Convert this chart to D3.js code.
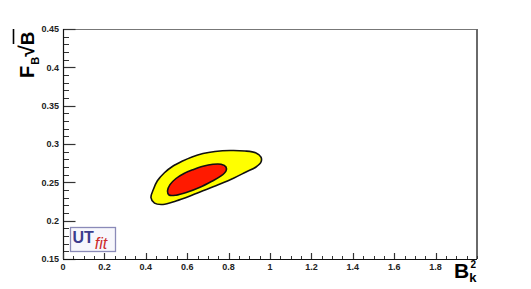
<!DOCTYPE html>
<html><head><meta charset="utf-8">
<script src="https://cdn.jsdelivr.net/npm/d3@7"></script>
<style>body{margin:0;background:#fff}svg{display:block}</style>
</head><body>
<svg id="c" width="531" height="289"></svg>
<script>
// ---- data ----
const xDomain = [0, 2];
const yDomain = [0.15, 0.45];
const xTicks = [0, 0.2, 0.4, 0.6, 0.8, 1, 1.2, 1.4, 1.6, 1.8];
const xTickLabels = ["0", "0.2", "0.4", "0.6", "0.8", "1", "1.2", "1.4", "1.6", "1.8"];
const yTicks = [0.15, 0.2, 0.25, 0.3, 0.35, 0.4, 0.45];
const yTickLabels = ["0.15", "0.2", "0.25", "0.3", "0.35", "0.4", "0.45"];
// 95% probability contour (yellow)
const outerBk = [0.4250,0.4370,0.4560,0.4900,0.5300,0.5749,0.6232,0.6763,0.7343,0.8068,0.8792,0.9324,0.9565,0.9565,0.9324,0.8841,0.8261,0.7585,0.6860,0.6135,0.5459,0.4831,0.4420];
const outerFB = [0.2300,0.2410,0.2520,0.2625,0.2710,0.2775,0.2832,0.2876,0.2902,0.2915,0.2909,0.2883,0.2830,0.2765,0.2700,0.2635,0.2557,0.2478,0.2400,0.2322,0.2257,0.2211,0.2228];
// 68% probability contour (red)
const innerBk = [0.5048,0.5169,0.5459,0.5845,0.6280,0.6763,0.7246,0.7633,0.7874,0.7874,0.7633,0.7198,0.6618,0.5990,0.5459,0.5121];
const innerFB = [0.2387,0.2470,0.2550,0.2615,0.2665,0.2710,0.2735,0.2735,0.2700,0.2648,0.2583,0.2515,0.2435,0.2370,0.2332,0.2335];

// ---- layout ----
const L = 63, R = 477, T = 29, B = 259;
const svg = d3.select("#c");
const x = d3.scaleLinear().domain(xDomain).range([L, R]);
const y = d3.scaleLinear().domain(yDomain).range([B, T]);
const font = "'Liberation Sans', Arial, Helvetica, sans-serif";

// contours
const line = d3.line().x(d => x(d[0])).y(d => y(d[1])).curve(d3.curveCatmullRomClosed.alpha(0.5));
const outer = outerBk.map((v, i) => [v, outerFB[i]]);
const inner = innerBk.map((v, i) => [v, innerFB[i]]);
svg.append("path").attr("d", line(outer)).attr("fill", "#ffff00").attr("stroke", "#111").attr("stroke-width", 1.6);
svg.append("path").attr("d", line(inner)).attr("fill", "#ff1a00").attr("stroke", "#111").attr("stroke-width", 1.6);

// frame: top & right grey
svg.append("line").attr("x1", L).attr("x2", R).attr("y1", T + 0.5).attr("y2", T + 0.5).attr("stroke", "#777").attr("stroke-width", 1.2);
svg.append("line").attr("x1", R).attr("x2", R).attr("y1", T).attr("y2", B).attr("stroke", "#6a6a6a").attr("stroke-width", 2);

// y axis
const yMinor = d3.range(0.15, 0.4501, 0.01);
const gy = svg.append("g");
gy.selectAll("line.mi").data(yMinor).join("line")
  .attr("x1", L).attr("x2", L + 6).attr("y1", d => Math.round(y(d)) + 0.5).attr("y2", d => Math.round(y(d)) + 0.5)
  .attr("stroke", "#333").attr("stroke-width", 1);
gy.selectAll("line.ma").data(yTicks).join("line")
  .attr("x1", L).attr("x2", L + 12.5).attr("y1", d => Math.round(y(d)) + 0.5).attr("y2", d => Math.round(y(d)) + 0.5)
  .attr("stroke", "#333").attr("stroke-width", 1.2);
gy.selectAll("text").data(yTicks).join("text")
  .attr("x", L - 4).attr("y", d => y(d) + 3.2).attr("text-anchor", "end")
  .attr("font-family", font).attr("font-size", 9).attr("font-weight", "bold").attr("fill", "#222")
  .text((d, i) => yTickLabels[i]);
svg.append("line").attr("x1", L + 0.5).attr("x2", L + 0.5).attr("y1", T).attr("y2", B).attr("stroke", "#111").attr("stroke-width", 1.2);

// x axis
const xMinor = d3.range(0, 2.0001, 0.05);
const gx = svg.append("g");
gx.selectAll("line.mi").data(xMinor).join("line")
  .attr("x1", d => Math.round(x(d)) + 0.5).attr("x2", d => Math.round(x(d)) + 0.5).attr("y1", B).attr("y2", B - 3)
  .attr("stroke", "#333").attr("stroke-width", 1);
gx.selectAll("line.ma").data(xTicks).join("line")
  .attr("x1", d => Math.round(x(d)) + 0.5).attr("x2", d => Math.round(x(d)) + 0.5).attr("y1", B).attr("y2", B - 6)
  .attr("stroke", "#333").attr("stroke-width", 1.2);
gx.selectAll("text").data(xTicks).join("text")
  .attr("x", d => x(d)).attr("y", B + 10.5).attr("text-anchor", "middle")
  .attr("font-family", font).attr("font-size", 9).attr("font-weight", "bold").attr("fill", "#222")
  .text((d, i) => xTickLabels[i]);
svg.append("line").attr("x1", L).attr("x2", R).attr("y1", B + 0.5).attr("y2", B + 0.5).attr("stroke", "#111").attr("stroke-width", 1.2);

// x title B_k^2
const xt = svg.append("text").attr("x", 454).attr("y", 278)
  .attr("font-family", font).attr("font-weight", "bold").attr("fill", "#000").attr("font-size", 21);
xt.append("tspan").text("B");
xt.append("tspan").attr("font-size", 13).attr("dy", 4).text("k");
xt.append("tspan").attr("font-size", 10).attr("dx", -6).attr("dy", -14).text("2");

// y title F_B sqrt(B)
const yt = svg.append("text").attr("transform", "translate(34,78) rotate(-90)")
  .attr("font-family", font).attr("font-weight", "bold").attr("fill", "#000").attr("font-size", 20);
yt.append("tspan").text("F");
yt.append("tspan").attr("font-size", 11).attr("dy", 5).attr("dx", 1).text("B");
yt.append("tspan").attr("font-size", 21).attr("dy", -5).attr("dx", 0).text("√");
yt.append("tspan").attr("font-size", 19).attr("dx", 0).text("B");
// radical overline
svg.append("line").attr("x1", 13.5).attr("x2", 13.5).attr("y1", 29).attr("y2", 44).attr("stroke", "#000").attr("stroke-width", 1.6);

// UTfit logo
const lg = svg.append("g");
lg.append("rect").attr("x", 70.5).attr("y", 227.5).attr("width", 45).attr("height", 24)
  .attr("fill", "#f7f7fc").attr("stroke", "#8a8ab8").attr("stroke-width", 1.3);
const lt = lg.append("text").attr("x", 72.5).attr("y", 242.5).attr("font-family", font);
lt.append("tspan").attr("font-size", 16).attr("font-weight", "bold").attr("fill", "#3c3c8c").text("UT");
lt.append("tspan").attr("font-size", 16).attr("font-style", "italic").attr("fill", "#cc2a2a").attr("dy", 6.5).attr("dx", 1).text("fit");
</script>
</body></html>
